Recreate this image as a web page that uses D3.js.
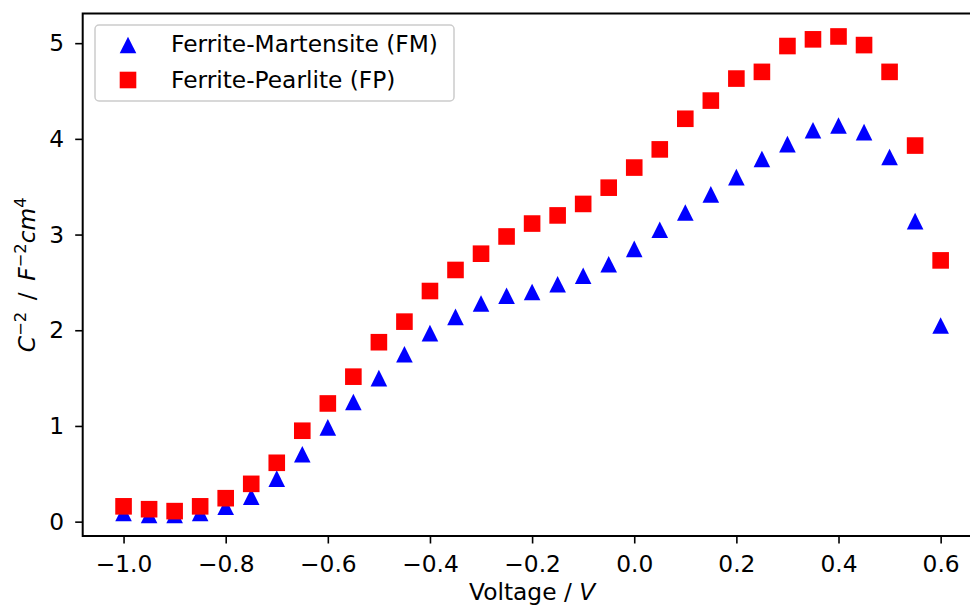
<!DOCTYPE html>
<html>
<head>
<meta charset="utf-8">
<script src="https://cdn.jsdelivr.net/npm/d3@7"></script>
<style>
    body { margin: 0; background: #fff; }
    svg { display: block; font-family: "DejaVu Sans", sans-serif; }
</style>
</head>
<body>
<svg id="svg-container" width="970" height="607"></svg>
<script>
// voltage steps (V)
var voltage = [-1.0, -0.95, -0.9, -0.85, -0.8, -0.75, -0.7, -0.65, -0.6, -0.55, -0.5,
    -0.45, -0.4, -0.35, -0.3, -0.25, -0.2, -0.15, -0.1, -0.05, 0.0, 0.05, 0.1,
    0.15, 0.2, 0.25, 0.3, 0.35, 0.4, 0.45, 0.5, 0.55, 0.6];

// Ferrite-Martensite
var fmValues = [0.09, 0.07, 0.07, 0.09, 0.155, 0.26, 0.45, 0.705, 0.985, 1.25, 1.50,
    1.75, 1.97, 2.14, 2.28, 2.36, 2.40, 2.48, 2.57, 2.69, 2.85, 3.05, 3.23,
    3.42, 3.60, 3.79, 3.945, 4.09, 4.14, 4.07, 3.81, 3.14, 2.05];

// Ferrite-Pearlite
var fpValues = [0.16, 0.13, 0.11, 0.16, 0.245, 0.395, 0.615, 0.95, 1.235, 1.515, 1.875,
    2.09, 2.41, 2.63, 2.80, 2.98, 3.115, 3.20, 3.32, 3.49, 3.70, 3.89, 4.21,
    4.40, 4.63, 4.70, 4.97, 5.04, 5.07, 4.98, 4.70, 3.93, 2.73];

var seriesNames = ["Ferrite-Martensite (FM)", "Ferrite-Pearlite (FP)"];
var xTicks = [-1.0, -0.8, -0.6, -0.4, -0.2, 0.0, 0.2, 0.4, 0.6];
var yTicks = [0, 1, 2, 3, 4, 5];

var PLOT = {
    LEFT: 82.7,
    RIGHT: 981.5,
    TOP: 13.5,
    BOTTOM: 536,
    FONT: 23.3,
    TICK: 7.5,

    draw: function () {
        var svg = d3.select("#svg-container");

        var x = d3.scaleLinear().domain([-1.08, 0.68]).range([PLOT.LEFT, PLOT.RIGHT]);
        var y = d3.scaleLinear().domain([-0.15, 5.31]).range([PLOT.BOTTOM, PLOT.TOP]);

        var fmt = function (d) { return d3.format(".1f")(d).replace("-", "\u2212"); };

        // markers
        var fm = voltage.map(function (v, i) { return { x: v, y: fmValues[i] }; });
        var fp = voltage.map(function (v, i) { return { x: v, y: fpValues[i] }; });

        svg.append("g").selectAll("path").data(fm).enter().append("path")
            .attr("d", "M0,-8.3 L8.3,8.3 L-8.3,8.3 Z")
            .attr("fill", "#0000ff")
            .attr("transform", function (d) { return "translate(" + x(d.x) + "," + y(d.y) + ")"; });

        svg.append("g").selectAll("rect").data(fp).enter().append("rect")
            .attr("x", function (d) { return x(d.x) - 8.3; })
            .attr("y", function (d) { return y(d.y) - 8.3; })
            .attr("width", 16.6)
            .attr("height", 16.6)
            .attr("fill", "#ff0000");

        // axes
        var xAxis = d3.axisBottom(x).tickValues(xTicks).tickFormat(fmt)
            .tickSize(PLOT.TICK).tickPadding(11.5);
        var yAxis = d3.axisLeft(y).tickValues(yTicks).tickFormat(d3.format("d"))
            .tickSize(PLOT.TICK).tickPadding(11);

        var gx = svg.append("g")
            .attr("transform", "translate(0," + PLOT.BOTTOM + ")")
            .call(xAxis);
        var gy = svg.append("g")
            .attr("transform", "translate(" + PLOT.LEFT + ",0)")
            .call(yAxis);

        [gx, gy].forEach(function (g) {
            g.select(".domain").remove();
            g.selectAll("line").attr("stroke", "#000").attr("stroke-width", 1.6);
            g.selectAll("text").attr("fill", "#000")
                .style("font-size", PLOT.FONT + "px")
                .style("font-family", "DejaVu Sans");
        });

        // frame
        svg.append("rect")
            .attr("x", PLOT.LEFT)
            .attr("y", PLOT.TOP)
            .attr("width", PLOT.RIGHT - PLOT.LEFT)
            .attr("height", PLOT.BOTTOM - PLOT.TOP)
            .attr("fill", "none")
            .attr("stroke", "#000")
            .attr("stroke-width", 2);

        // x label
        var xl = svg.append("text")
            .attr("x", (PLOT.LEFT + PLOT.RIGHT) / 2)
            .attr("y", 599.5)
            .attr("text-anchor", "middle")
            .style("font-size", PLOT.FONT + "px");
        xl.append("tspan").text("Voltage / ");
        xl.append("tspan").style("font-style", "italic").text("V");

        // y label, C^-2 / F^-2 cm^4
        var yl = svg.append("text")
            .attr("transform", "translate(35," + ((PLOT.TOP + PLOT.BOTTOM) / 2) + ") rotate(-90)")
            .attr("text-anchor", "middle")
            .style("font-size", PLOT.FONT + "px");
        var sup = PLOT.FONT * 0.7 + "px";
        yl.append("tspan").style("font-style", "italic").text("C");
        yl.append("tspan").attr("dy", -9).style("font-size", sup).text("\u22122");
        yl.append("tspan").attr("dy", 9).text("\u2002/\u2002");
        yl.append("tspan").style("font-style", "italic").text("F");
        yl.append("tspan").attr("dy", -9).style("font-size", sup).text("\u22122");
        yl.append("tspan").attr("dy", 9).style("font-style", "italic").text("cm");
        yl.append("tspan").attr("dy", -9).style("font-size", sup).text("4");

        // legend
        var lg = svg.append("g");
        lg.append("rect")
            .attr("x", 95).attr("y", 25)
            .attr("width", 359).attr("height", 76)
            .attr("rx", 4)
            .attr("fill", "#fff").attr("fill-opacity", 0.8)
            .attr("stroke", "#cccccc").attr("stroke-width", 1.5);
        lg.append("path")
            .attr("d", "M0,-8.3 L8.3,8.3 L-8.3,8.3 Z")
            .attr("fill", "#0000ff")
            .attr("transform", "translate(128,45)");
        lg.append("rect")
            .attr("x", 128 - 8.3).attr("y", 80 - 8.3)
            .attr("width", 16.6).attr("height", 16.6)
            .attr("fill", "#ff0000");
        lg.selectAll("text.lab").data(seriesNames).enter().append("text")
            .attr("class", "lab")
            .attr("x", 171)
            .attr("y", function (d, i) { return 52 + i * 35.7; })
            .style("font-size", PLOT.FONT + "px")
            .text(function (d) { return d; });
    }
};

PLOT.draw();
</script>
</body>
</html>
